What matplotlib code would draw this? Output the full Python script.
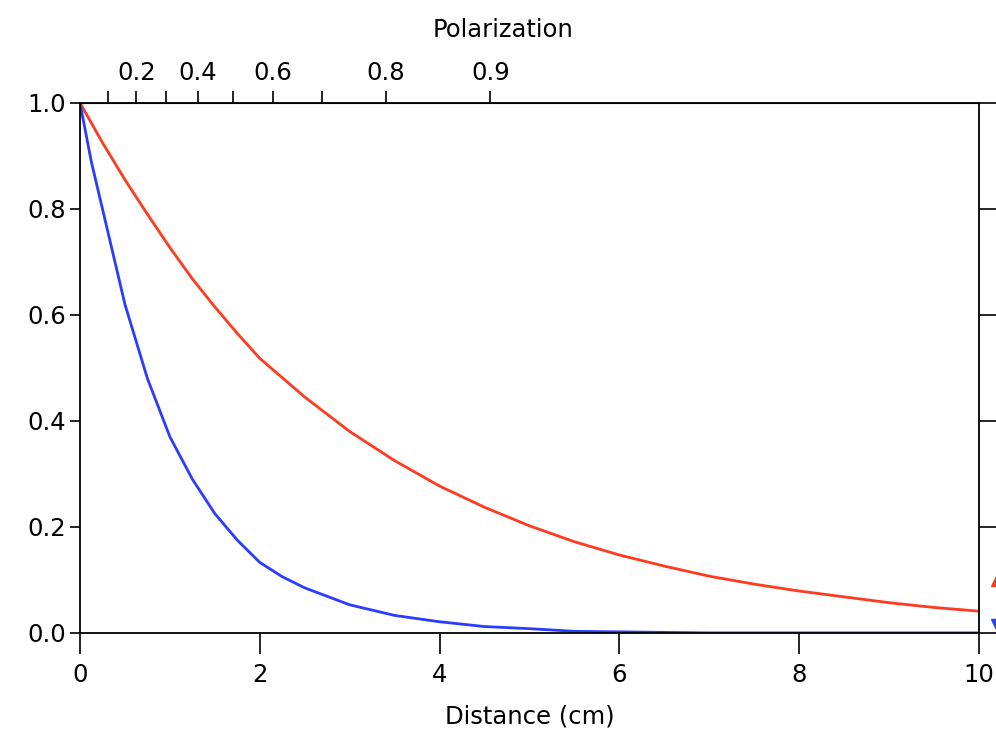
import numpy as np
import matplotlib
matplotlib.use("Agg")
import matplotlib.pyplot as plt

# distance (cm) and normalised signal
dist_red = [0, 0.25, 0.5, 0.75, 1, 1.25, 1.5, 1.75, 2, 2.5, 3, 3.5, 4, 4.5, 5,
            5.5, 6, 6.5, 7, 7.5, 8, 8.5, 9, 9.5, 10]
red = [1.0, 0.925, 0.855, 0.79, 0.727, 0.668, 0.615, 0.565, 0.518, 0.445, 0.38,
       0.325, 0.277, 0.237, 0.202, 0.172, 0.147, 0.126, 0.107, 0.092, 0.079,
       0.068, 0.057, 0.048, 0.041]
dist_blue = [0, 0.125, 0.25, 0.5, 0.75, 1, 1.25, 1.5, 1.75, 2, 2.25, 2.5, 3, 3.5,
             4, 4.5, 5, 5.5, 6, 6.5, 7, 8, 9, 10]
blue = [1.0, 0.89, 0.80, 0.62, 0.48, 0.37, 0.29, 0.225, 0.175, 0.133, 0.106,
        0.085, 0.053, 0.033, 0.021, 0.012, 0.008, 0.003, 0.002, 0.001, 0.0,
        0.0, 0.0, 0.0]

pol_ticks = [0.1, 0.2, 0.3, 0.4, 0.5, 0.6, 0.7, 0.8, 0.9]
pol_labels = ["", "0.2", "", "0.4", "", "0.6", "", "0.8", "0.9"]
pol_scale = 3.1  # cm, top axis: P = tanh(d / pol_scale)

plt.rcParams['font.family'] = ['DejaVu Sans']
plt.rcParams['font.size'] = 17.5

fig = plt.figure(figsize=(9.96, 7.30), dpi=100)
ax = fig.add_axes([0.0803, 0.133, 0.9027, 0.726])

ax.plot(dist_red, red, color="#ff3a1e", lw=2.0)
ax.plot(dist_blue, blue, color="#2a3cff", lw=2.0)

ax.set_xlim(0, 10)
ax.set_ylim(0, 1.0)
ax.set_xticks([0, 2, 4, 6, 8, 10])
ax.set_xticklabels(["0", "2", "4", "6", "8", "10"])
ax.set_yticks([0, 0.2, 0.4, 0.6, 0.8, 1.0])
ax.set_yticklabels(["0.0", "0.2", "0.4", "0.6", "0.8", "1.0"])
ax.tick_params(axis="x", direction="out", length=15, width=1.2, pad=7)
ax.tick_params(axis="y", direction="out", length=7, width=1.2, pad=3,
               right=True, labelright=False)
for s in ax.spines.values():
    s.set_linewidth(1.3)
ax.set_xlabel("Distance (cm)", labelpad=12)

# right-side ticks stick outward
for t in ax.yaxis.get_major_ticks():
    t.tick2line.set_marker(matplotlib.lines.TICKRIGHT)
    t.tick2line.set_markersize(16)

sec = ax.secondary_xaxis(
    "top",
    functions=(lambda d: np.tanh(np.asarray(d) / pol_scale),
               lambda p: pol_scale * np.arctanh(np.clip(p, -0.999999, 0.999999))))
sec.set_xticks(pol_ticks)
sec.set_xticklabels(pol_labels)
sec.tick_params(direction="out", length=9, width=1.2, pad=4)
fig.text(503 / 996, 1 - 30 / 730, "Polarization", ha="center", va="center")

# clipped markers at the right edge
fig.lines.append(matplotlib.lines.Line2D([1.003], [0.208], marker="^", color="#ff3a1e",
                                         markersize=11, transform=fig.transFigure))
fig.lines.append(matplotlib.lines.Line2D([1.003], [0.141], marker="v", color="#2a3cff",
                                         markersize=11, transform=fig.transFigure))

fig.savefig("out.png", dpi=100)
